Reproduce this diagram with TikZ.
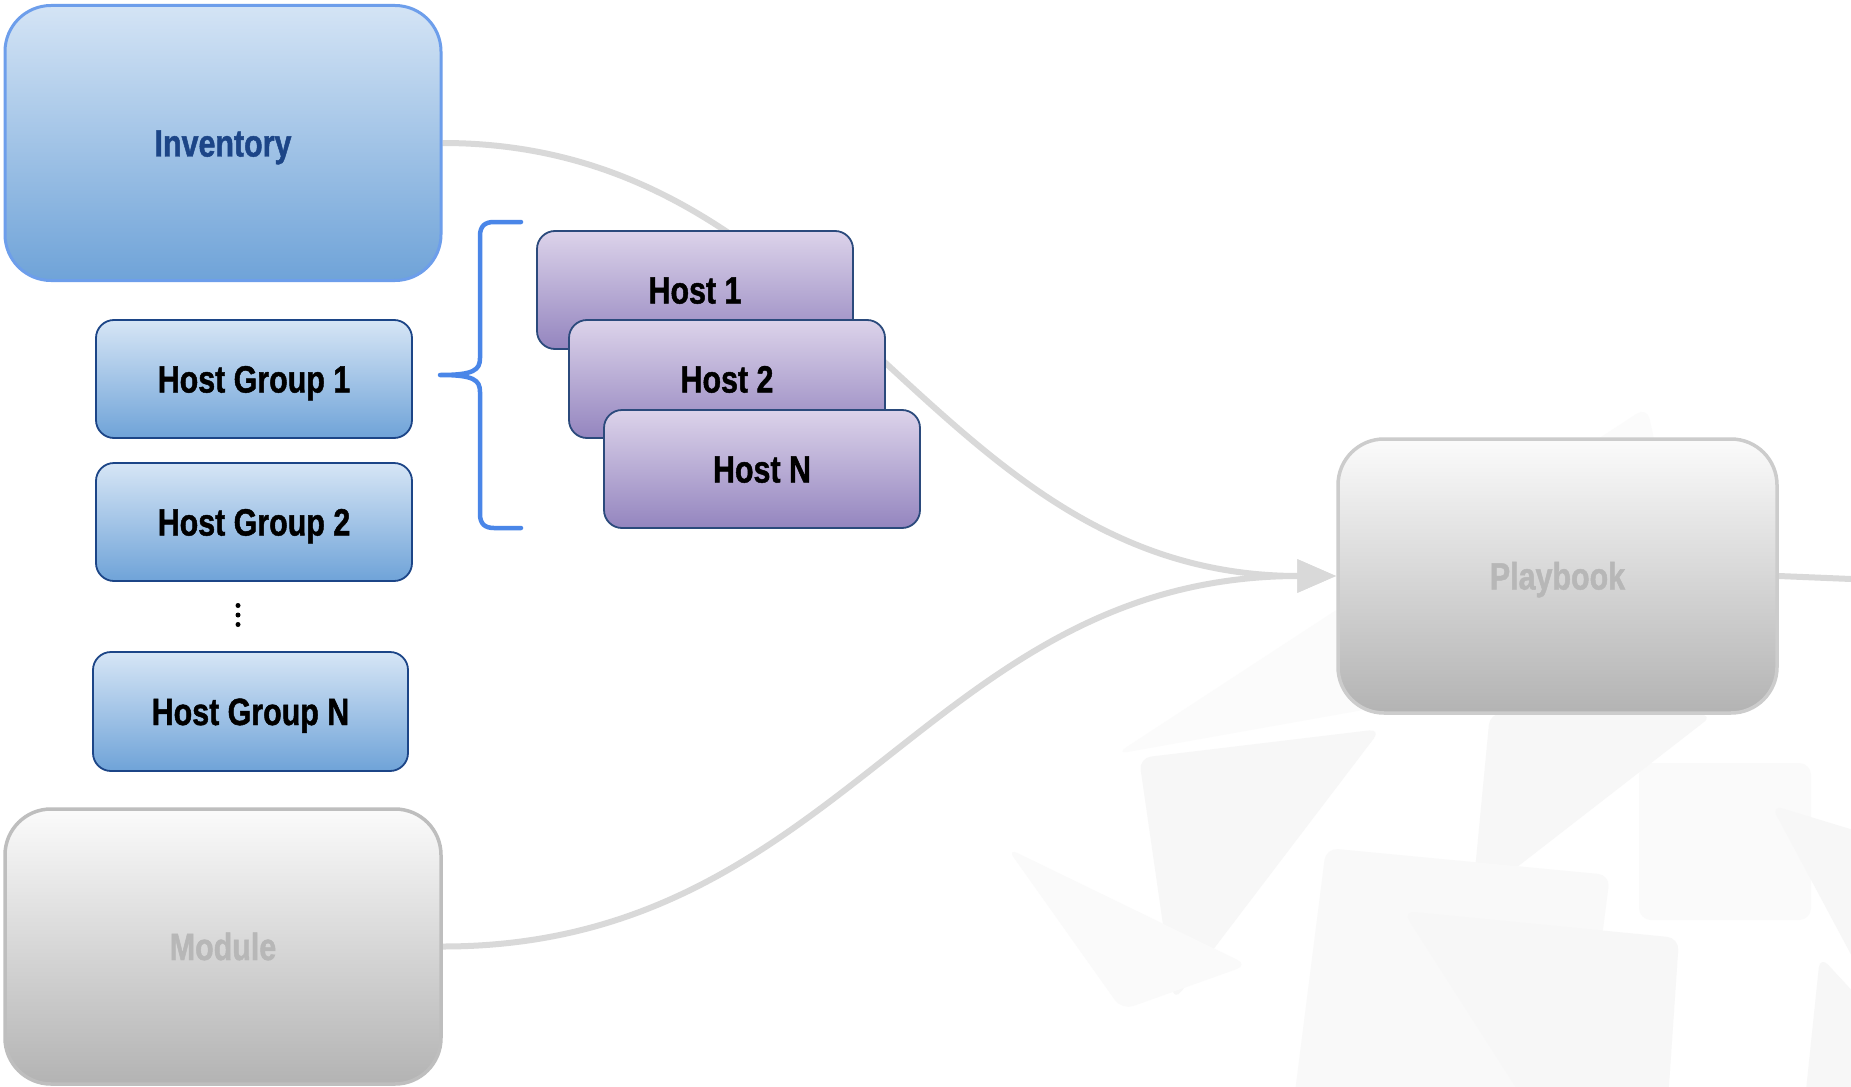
\documentclass[tikz,border=0pt]{standalone}
\usepackage{fontspec}
\setmainfont{Liberation Sans}[FakeStretch=0.80, BoldFeatures={FakeBold=1.2}]
\usetikzlibrary{arrows.meta}
\pgfdeclarelayer{deco}
\pgfdeclarelayer{links}
\pgfsetlayers{deco,links,main}
\definecolor{invfillTop}{HTML}{D4E4F5}
\definecolor{invfillBot}{HTML}{6FA3D8}
\definecolor{invborder}{HTML}{6D9EEB}
\definecolor{hgborder}{HTML}{1C4587}
\definecolor{hostTop}{HTML}{DCD3EA}
\definecolor{hostBot}{HTML}{9485BF}
\definecolor{hostborder}{HTML}{2B4A7C}
\definecolor{grayTop}{HTML}{FBFBFB}
\definecolor{grayBot}{HTML}{B3B3B3}
\definecolor{grayborder}{HTML}{CCCCCC}
\definecolor{graytext}{HTML}{B7B7B7}
\definecolor{invtext}{HTML}{1C4587}
\definecolor{linkcol}{HTML}{D9D9D9}
\definecolor{bracecol}{HTML}{4A86E8}
\definecolor{wm}{HTML}{F7F7F7}
\tikzset{
  lbl/.style={font=\fontsize{38}{40}\selectfont\bfseries, text height=27pt, text depth=0pt},
  bigbox/.style={rectangle, rounded corners=46pt, lbl,
    minimum width=436pt, minimum height=275pt, inner sep=0pt},
  invbox/.style={bigbox, draw=invborder, line width=3pt,
    top color=invfillTop, bottom color=invfillBot, text=invtext},
  graybox/.style={bigbox, draw=grayborder, line width=3.5pt,
    top color=grayTop, bottom color=grayBot, text=graytext},
  smallbox/.style={rectangle, rounded corners=18pt, lbl, line width=1.8pt,
    minimum width=316pt, minimum height=118pt, inner sep=0pt},
  hgbox/.style={smallbox, draw=hgborder, top color=invfillTop!95!white,
    bottom color=invfillBot},
  hostbox/.style={smallbox, draw=hostborder, top color=hostTop,
    bottom color=hostBot},
  link/.style={draw=linkcol, line width=6pt},
  linkarrow/.style={link, -{Triangle[length=39pt,width=32pt,fill=linkcol]}},
  wmshape/.style={fill=wm, rounded corners=12pt},
}
\begin{document}
\begin{tikzpicture}[x=1pt,y=-1pt]
\useasboundingbox (0,0) rectangle (1851,1086);

% nodes
\node[invbox] (inv) at (223,143) {Inventory};
\node[hgbox] (hg1) at (254,379) {Host Group 1};
\node[hgbox] (hg2) at (254,522) {Host Group 2};
\node[hgbox, minimum width=315pt, minimum height=119pt] (hgn) at (250.5,711.5) {Host Group N};
\node[inner sep=0pt, minimum size=1pt] (dots) at (238,615) {};
\fill (dots) ++(0,-9.5) circle (2.5pt) (dots) circle (2.5pt) (dots) ++(0,9.5) circle (2.5pt);
\node[hostbox] (h1) at (695,290) {Host 1};
\node[hostbox] (h2) at (727,379) {Host 2};
\node[hostbox] (hn) at (762,469) {Host N};
\node[graybox, minimum width=439pt, minimum height=274pt] (pb) at (1557.5,576) {Playbook};
\node[graybox, draw=grayborder!93!black] (mod) at (223,946.5) {Module};
\coordinate (out) at (1851,579);

% brace
\draw[bracecol, line width=4.5pt, line cap=round, line join=round]
  (521,222) -- (494,222) .. controls (485,222) and (480,226) .. (480,236)
  -- (480,358) .. controls (480,370) and (474,375) .. (440,375)
  .. controls (474,375) and (480,380) .. (480,392)
  -- (480,514) .. controls (480,524) and (485,528) .. (494,528) -- (521,528);

% connectors
\begin{pgfonlayer}{links}
\draw[linkarrow] (inv.east) .. controls +(400,0) and +(-408,0) .. (pb.west);
\draw[linkarrow] (mod.east) .. controls +(400,0) and +(-408,0) .. (pb.west);
\draw[link] (pb.east) -- (out);
\end{pgfonlayer}

% background and faint watermark shapes
\begin{pgfonlayer}{deco}
\fill[white] (0,0) rectangle (1851,1086);
\fill[wmshape, fill=wm!50!white] (1116,754) -- (1647,407) -- (1700,650) -- cycle;
\fill[wmshape, fill=wm!60!white] (1639,763) -- (1811,763) -- (1811,920) -- (1639,920) -- cycle;
\fill[wmshape] (1139,758) -- (1381,729) -- (1174,1001) -- cycle;
\fill[wmshape] (1472,902) -- (1490,713) -- (1713,715) -- cycle;
\fill[wmshape, fill=wm!60!white] (1007,848) -- (1248,965) -- (1122,1010) -- cycle;
\fill[wmshape, fill=wm!80!white] (1326,848) -- (1610,875) -- (1581,1100) -- (1294,1100) -- cycle;
\fill[wmshape] (1403,911) -- (1679,938) -- (1668,1100) -- (1524,1100) -- cycle;
\fill[wmshape] (1771,805) -- (1870,835) -- (1870,990) -- cycle;
\fill[wmshape] (1820,956) -- (1870,1010) -- (1870,1100) -- (1805,1100) -- cycle;
\end{pgfonlayer}
\end{tikzpicture}
\end{document}
